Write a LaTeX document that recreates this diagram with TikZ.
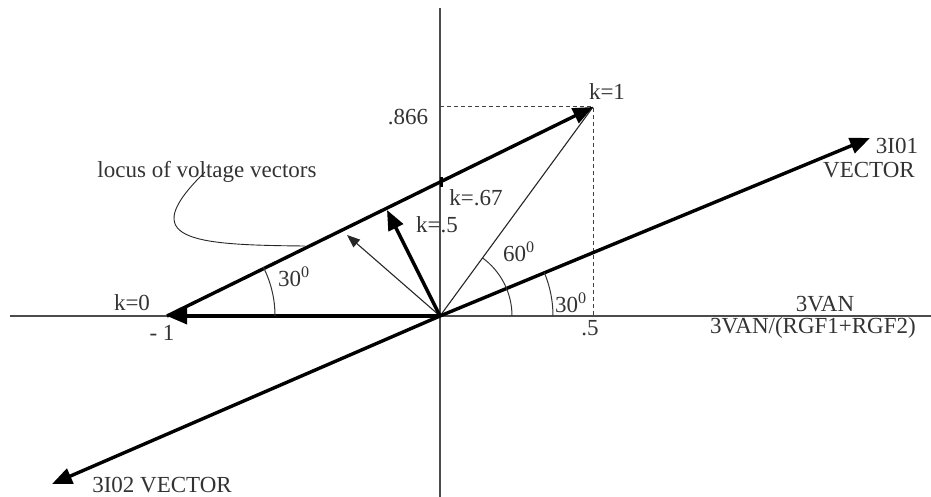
\documentclass[tikz,border=0pt]{standalone}
\usepackage{fontspec}
\setmainfont{Liberation Serif}
\usetikzlibrary{arrows.meta}
\begin{document}
\begin{tikzpicture}[x=1pt,y=-1pt,
  lbl/.style={inner sep=0pt, text=black!80, font=\fontsize{23}{25}\selectfont},
  axisline/.style={draw=black!70, line width=1.4pt},
  bigvec/.style={line width=3.4pt, -{Triangle[length=20pt,width=16pt]}},
  smallvec/.style={line width=1.1pt, draw=black!85, -{Triangle[length=13pt,width=10pt]}},
  thinline/.style={line width=1.1pt, draw=black!85},
  anglearc/.style={line width=1pt, draw=black!80},
  dashline/.style={line width=1pt, draw=black!75, dash pattern=on 4pt off 3pt}
]
\useasboundingbox (0,0) rectangle (931,497);
% coordinates
\coordinate (O) at (440,316);
\coordinate (M1) at (167,316);
\coordinate (K1) at (593,107);
\coordinate (K5) at (387,210);
\coordinate (Kt) at (347,235);
\coordinate (I1) at (870,138);
\coordinate (I2) at (52,484);
\coordinate (XL) at (10,316);
\coordinate (XR) at (931,316);
\coordinate (YT) at (440,8);
\coordinate (YB) at (440,497);
\coordinate (D1) at (440,107);
\coordinate (D2) at (593,316);
\coordinate (T67a) at (441,177);
\coordinate (T67b) at (441,187);
\coordinate (C0) at (205,172);
\coordinate (C1) at (305,246);
\coordinate (A1) at (275,316);
\coordinate (A2) at (512,316);
\coordinate (A3) at (553,316);
% axes
\draw[axisline] (XL) -- (XR);
\draw[axisline] (YT) -- (YB);
% dashed projections
\draw[dashline] (D1) -- (K1) -- (D2);
% thin vectors
\draw[thinline] (O) -- (K1);
\draw[smallvec] (O) -- (Kt);
% thick vectors
\draw[bigvec] (O) -- (M1);
\draw[bigvec] (M1) -- (K1);
\draw[bigvec] (O) -- (K5);
\draw[bigvec] (O) -- (I1);
\draw[bigvec] (O) -- (I2);
\draw[line width=3pt] (T67a) -- (T67b);
% angle arcs
\draw[anglearc] (A1) arc[start angle=0, end angle=-27, radius=108];
\draw[anglearc] (A2) arc[start angle=0, end angle=-54, radius=72];
\draw[anglearc] (A3) arc[start angle=0, end angle=-22.6, radius=113];
% locus pointer
\draw[thinline, line width=0.9pt] (C0) .. controls (135,240) and (190,245) .. (C1);
% labels
\node[lbl] (k1) at (607,92) {k=1};
\node[lbl] (l866) at (408,117) {.866};
\node[lbl] (k67) at (476,198) {k=.67};
\node[lbl] (k5) at (437,225) {k=.5};
\node[lbl] (a60) at (519,252) {60\textsuperscript{0}};
\node[lbl] (a30r) at (571,303) {30\textsuperscript{0}};
\node[lbl] (a30l) at (294,277) {30\textsuperscript{0}};
\node[lbl] (k0) at (132,303) {k=0};
\node[lbl] (m1) at (162,333) {- 1};
\node[lbl] (h5) at (590,328) {.5};
\node[lbl] (van) at (825,304) {3VAN};
\node[lbl] (vanr) at (813,328) {3VAN/(RGF1+RGF2)};
\node[lbl] (i01) at (897,146) {3I01};
\node[lbl] (vec1) at (869,170) {VECTOR};
\node[lbl] (i02) at (162,485) {3I02 VECTOR};
\node[lbl] (loc) at (207,172) {locus of voltage vectors};
\end{tikzpicture}
\end{document}
